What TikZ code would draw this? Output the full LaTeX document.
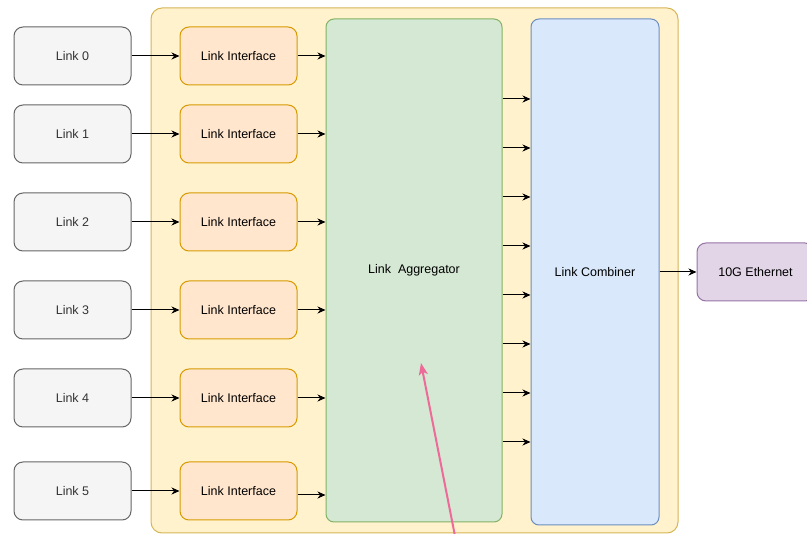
\documentclass[tikz,border=0pt]{standalone}
\usepackage{fontspec}
\setmainfont{Liberation Sans}
\usetikzlibrary{arrows.meta}
\definecolor{grayfill}{HTML}{F5F5F5}
\definecolor{graystroke}{HTML}{666666}
\definecolor{graytext}{HTML}{333333}
\definecolor{orfill}{HTML}{FFE6CC}
\definecolor{orstroke}{HTML}{D79B00}
\definecolor{yefill}{HTML}{FFF2CC}
\definecolor{yestroke}{HTML}{D6B656}
\definecolor{grfill}{HTML}{D5E8D4}
\definecolor{grstroke}{HTML}{82B366}
\definecolor{blfill}{HTML}{DAE8FC}
\definecolor{blstroke}{HTML}{6C8EBF}
\definecolor{pufill}{HTML}{E1D5E7}
\definecolor{pustroke}{HTML}{9673A6}
\definecolor{pinkline}{HTML}{EE6A98}
\begin{document}
\begin{tikzpicture}[x=1pt,y=-1pt,
  every node/.style={font=\fontsize{12.5}{14}\selectfont, inner sep=0pt, line width=1pt},
  box/.style={draw, rounded corners=9pt, minimum width=117pt, minimum height=58pt},
  linkbox/.style={box, fill=grayfill, draw=graystroke, text=graytext},
  ifbox/.style={box, fill=orfill, draw=orstroke},
  conn/.style={line width=1pt, -{Stealth[length=8pt,width=7pt,inset=2.5pt]}}
]
\useasboundingbox (0,0) rectangle (807,534);
\node[draw=yestroke, fill=yefill, rounded corners=11pt, minimum width=527pt, minimum height=525pt] (cont) at (414.5,270.5) {};
\node[draw=grstroke, fill=grfill, rounded corners=8pt, minimum width=176pt, minimum height=503pt] (agg) at (414,270.5) {Link\ \ Aggregator};
\node[draw=blstroke, fill=blfill, rounded corners=8pt, minimum width=128pt, minimum height=506pt] (comb) at (595,272) {Link Combiner};
\node[box, fill=pufill, draw=pustroke] (eth) at (755.5,272) {10G Ethernet};

\foreach \i/\y in {0/56,1/134,2/222,3/310,4/398,5/491}{
  \node[linkbox] (link\i) at (72.5,\y) {Link \i};
  \node[ifbox] (if\i) at (238.5,\y) {Link Interface};
  \draw[conn] (link\i) -- (if\i);
}
\foreach \i in {0,1,2,3,4}{
  \draw[conn] (if\i.east) -- (agg.west |- if\i.east);
}
\coordinate (if5out) at ([yshift=-4pt]if5.east);
\draw[conn] (if5out) -- (agg.west |- if5out);
\foreach \y in {99,148,197,246,295,344,393,442}{
  \draw[conn] (agg.east |- {(0,\y)}) -- (comb.west |- {(0,\y)});
}
\draw[conn] (comb.east |- eth.west) -- (eth.west);
\coordinate (pstart) at (455,536);
\coordinate (ptip) at (421,363);
\draw[line width=2pt, pinkline, -{Stealth[length=12pt,width=9pt,inset=3pt]}] (pstart) -- (ptip);
\end{tikzpicture}
\end{document}
